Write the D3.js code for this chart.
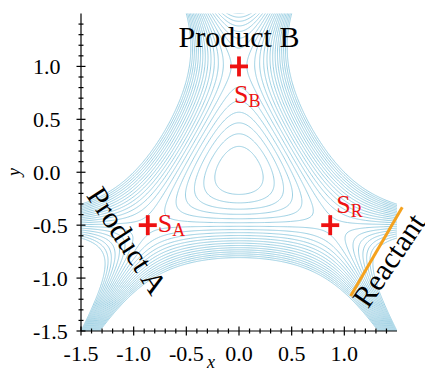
<!DOCTYPE html>
<html>
<head>
<meta charset="utf-8">
<script src="https://cdn.jsdelivr.net/npm/d3@7"></script>
<style>
  body { margin: 0; background: #fff; }
  text { font-family: 'Liberation Serif'; }
</style>
</head>
<body>
<svg id="chart" width="425" height="371" font-family="Liberation Serif"></svg>
<script>
// ── data ────────────────────────────────────────────────────────────────
// contour levels of the potential (0 .. 0.5)
const levels = [0, 0.025, 0.05, 0.075, 0.1, 0.125, 0.15, 0.175, 0.2, 0.225, 0.25,
                0.275, 0.3, 0.325, 0.35, 0.375, 0.4, 0.425, 0.45, 0.475, 0.5];
const saddleNames = ["A", "B", "R"];
const saddleX = [-0.866, 0, 0.866];
const saddleY = [-0.5, 1.0, -0.5];
const reactantLineX = [1.06, 1.55];
const reactantLineY = [-1.17, -0.33];
const tickLabels = [-1.5, -1.0, -0.5, 0.0, 0.5, 1.0];

// Henon-Heiles type model potential that the contours describe
const potential = (x, y) => 0.5 * (x * x + y * y) + x * x * y - y * y * y / 3;

const svg = d3.select("#chart");
const x = d3.scaleLinear([-1.5, 1.5], [81, 397]);
const y = d3.scaleLinear([-1.5, 1.5], [331, 13.5]);

// every text gets the serif face explicitly
const label = (parent) => parent.append("text").style("font-family", "'Liberation Serif'");

// ── contour lines ───────────────────────────────────────────────────────
// grid a bit larger than the plot so the border edges fall outside the clip
const lo = -1.8, hi = 1.8, n = 360, step = (hi - lo) / n;
const grid = new Float64Array(n * n);
for (let j = 0; j < n; j++) {
  const gy = hi - (j + 0.5) * step;
  for (let i = 0; i < n; i++) {
    grid[j * n + i] = potential(lo + (i + 0.5) * step, gy);
  }
}
const contours = d3.contours().size([n, n]).thresholds(levels)(grid);

svg.append("clipPath").attr("id", "plot-clip")
  .append("rect")
  .attr("x", x(-1.5)).attr("y", y(1.5))
  .attr("width", x(1.5) - x(-1.5)).attr("height", y(-1.5) - y(1.5));

const proj = d3.geoTransform({
  point(px, py) { this.stream.point(x(lo + px * step), y(hi - py * step)); }
});

svg.append("g")
  .attr("clip-path", "url(#plot-clip)")
  .attr("fill", "none")
  .attr("stroke", "#92cbe0")
  .attr("stroke-width", 0.9)
  .selectAll("path")
  .data(contours)
  .join("path")
    .attr("d", d3.geoPath(proj));

// ── axes ────────────────────────────────────────────────────────────────
const axis = svg.append("g").attr("stroke", "#000").attr("stroke-width", 1.2);
axis.append("line").attr("x1", x(-1.5)).attr("x2", x(-1.5)).attr("y1", y(1.5)).attr("y2", y(-1.5));
axis.append("line").attr("x1", x(-1.5)).attr("x2", x(1.5)).attr("y1", y(-1.5)).attr("y2", y(-1.5));

const minor = d3.range(-15, 15).map(k => k / 10);
minor.forEach(v => {
  const isMajor = tickLabels.some(t => Math.abs(t - v) < 1e-9);
  const h = isMajor ? 4.5 : 2.5;
  axis.append("line").attr("x1", x(-1.5) - h).attr("x2", x(-1.5) + h)
    .attr("y1", y(v)).attr("y2", y(v));
  axis.append("line").attr("x1", x(v)).attr("x2", x(v))
    .attr("y1", y(-1.5) - h).attr("y2", y(-1.5) + h);
});

const fmt = d => d3.format(".1f")(d).replace("−", "-");
tickLabels.forEach(d => {
  label(svg).attr("x", 33).attr("y", y(d)).attr("dy", "0.35em")
    .attr("font-size", 22).text(fmt(d));
  label(svg).attr("x", x(d)).attr("y", 361).attr("text-anchor", "middle")
    .attr("font-size", 22).text(fmt(d));
});

label(svg)
  .attr("x", 211).attr("y", 368)
  .attr("text-anchor", "middle")
  .attr("font-size", 18).attr("font-style", "italic")
  .text("x");

label(svg)
  .attr("transform", "translate(20,172) rotate(-90)")
  .attr("text-anchor", "middle")
  .attr("font-size", 18).attr("font-style", "italic")
  .text("y");

// ── reactant dividing line ─────────────────────────────────────────────
svg.append("line")
  .attr("x1", x(reactantLineX[0])).attr("y1", y(reactantLineY[0]))
  .attr("x2", x(reactantLineX[1])).attr("y2", y(reactantLineY[1]))
  .attr("stroke", "#f5a21e").attr("stroke-width", 3);

// ── saddle markers ──────────────────────────────────────────────────────
const red = "#ee1111";
const labelOffset = { A: [10, 7], B: [-5, 37], R: [6, -12] };
saddleNames.forEach((name, i) => {
  const cx = x(saddleX[i]), cy = y(saddleY[i]);
  const g = svg.append("g").attr("stroke", red).attr("stroke-width", 3.8);
  g.append("line").attr("x1", cx - 9).attr("x2", cx + 9).attr("y1", cy).attr("y2", cy);
  g.append("line").attr("x1", cx).attr("x2", cx).attr("y1", cy - 10).attr("y2", cy + 10);

  const t = label(svg)
    .attr("x", cx + labelOffset[name][0])
    .attr("y", cy + labelOffset[name][1])
    .attr("fill", red)
    .attr("font-size", 26)
    .text("S");
  t.append("tspan").attr("font-size", 18).attr("dy", 4).text(name);
});

// ── region labels ──────────────────────────────────────────────────────
const region = (text, px, py, angle) =>
  label(svg)
    .attr("transform", `translate(${x(px)},${y(py)}) rotate(${angle})`)
    .attr("text-anchor", "middle")
    .attr("dominant-baseline", "central")
    .attr("font-size", 30)
    .text(text);

region("Product B", 0, 1.28, 0);
region("Product A", -1.06, -0.645, 57);
region("Reactant", 1.42, -0.83, -56);
</script>
</body>
</html>
